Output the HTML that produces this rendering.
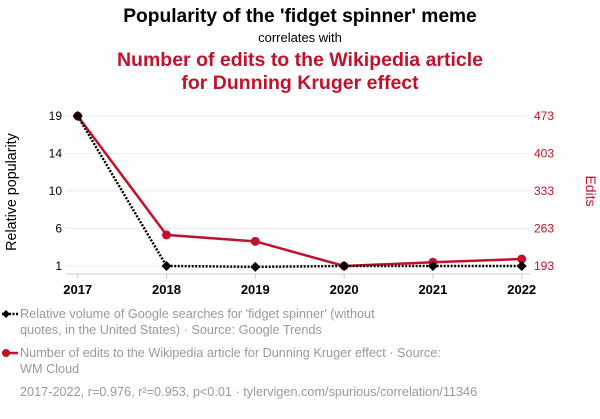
<!DOCTYPE html>
<html><head><meta charset="utf-8"><style>
body{margin:0;background:#fff;width:600px;height:414px;overflow:hidden;font-family:"Liberation Sans",sans-serif}
svg text{font-family:"Liberation Sans",sans-serif}
</style></head><body>
<svg id="c" width="600" height="414">
<text x="300" y="22" text-anchor="middle" font-size="19.2" font-weight="bold" fill="#000">Popularity of the 'fidget spinner' meme</text>
<text x="300" y="42" text-anchor="middle" font-size="13" fill="#000">correlates with</text>
<text x="300" y="66" text-anchor="middle" font-size="19.5" font-weight="bold" fill="#c0122c">Number of edits to the Wikipedia article</text>
<text x="300" y="89" text-anchor="middle" font-size="19.5" font-weight="bold" fill="#c0122c">for Dunning Kruger effect</text>
<text transform="translate(16,192) rotate(-90)" text-anchor="middle" font-size="14.3" fill="#000">Relative popularity</text>
<text transform="translate(586,191) rotate(90)" text-anchor="middle" font-size="14" fill="#c0122c">Edits</text>
<g id="grid"></g><g id="axes"></g><g id="series"></g>
<g>
<line x1="2" y1="314" x2="18" y2="314" stroke="#000" stroke-width="2.5" stroke-dasharray="2,1.5"/>
<path d="M2 314 L6 310 L10 314 L6 318Z" fill="#000"/>
<text x="20" y="318" font-size="12.7" fill="#999">Relative volume of Google searches for 'fidget spinner' (without</text>
<text x="20" y="334" font-size="12.7" fill="#999">quotes, in the United States) · Source: Google Trends</text>
<line x1="2" y1="353" x2="18" y2="353" stroke="#c0122c" stroke-width="2.5"/>
<circle cx="6" cy="353" r="4" fill="#c0122c"/>
<text x="20" y="357" font-size="12.7" fill="#999">Number of edits to the Wikipedia article for Dunning Kruger effect · Source:</text>
<text x="20" y="373" font-size="12.7" fill="#999">WM Cloud</text>
</g>
<text x="20" y="396" font-size="12.7" fill="#999">2017-2022, r=0.976, r²=0.953, p&lt;0.01 · tylervigen.com/spurious/correlation/11346</text>
</svg>
<script>
const years=[2017,2018,2019,2020,2021,2022];
const google=[19,1,0.9,1,1,1];
const edits=[473,251,239,193,200,206];
const leftTicks=[1,5.5,10,14.5,19];
const leftTickLabels=["1","6","10","14","19"];
const rightTicks=[193,263,333,403,473];
const NS="http://www.w3.org/2000/svg";
const x=y=>77.7+(y-2017)*88.8;
const yl=v=>266-(v-1)/18*150;
const yr=v=>266-(v-193)/280*150;
function mk(t,a,p){const e=document.createElementNS(NS,t);for(const k in a)e.setAttribute(k,a[k]);document.getElementById(p).appendChild(e);return e;}
leftTicks.forEach((t,i)=>{
 const g=mk('line',{x1:66,x2:530,y1:yl(t),y2:yl(t),stroke:'#eee'},'grid');
 
 
 const l=mk('text',{x:62,y:yl(t)+4,'text-anchor':'end','font-size':12,fill:'#000'},'axes');l.textContent=leftTickLabels[i];
 
 
});
rightTicks.forEach(t=>{
 const l=mk('text',{x:534,y:yr(t)+4,'font-size':12,fill:'#c0122c'},'axes');l.textContent=t;
 
 
});
const ax=mk('line',{x1:66,x2:530,y1:274,y2:274,stroke:'#ccc'},'axes');


years.forEach(yv=>{
 mk('line',{x1:x(yv),x2:x(yv),y1:274,y2:279,stroke:'#ccc'},'axes');
 const l=mk('text',{x:x(yv),y:294,'text-anchor':'middle','font-size':13,'font-weight':'bold',fill:'#000'},'axes');l.textContent=yv;
 
 
});
const rp=mk('polyline',{points:years.map((yv,i)=>x(yv)+','+yr(edits[i])).join(' '),fill:'none',stroke:'#c0122c','stroke-width':2.5},'series');


years.forEach((yv,i)=>{const c=mk('circle',{cx:x(yv),cy:yr(edits[i]),r:4.5,fill:'#c0122c'},'series');
 
 });
const bp=mk('polyline',{points:years.map((yv,i)=>x(yv)+','+yl(google[i])).join(' '),fill:'none',stroke:'#000','stroke-width':2.5,'stroke-dasharray':'2,1.5'},'series');


years.forEach((yv,i)=>{const cx=x(yv),cy=yl(google[i]);
 const d=mk('path',{d:`M${cx-5} ${cy} L${cx} ${cy-5} L${cx+5} ${cy} L${cx} ${cy+5}Z`,fill:'#000'},'series');
 
 });
</script>
</body></html>
